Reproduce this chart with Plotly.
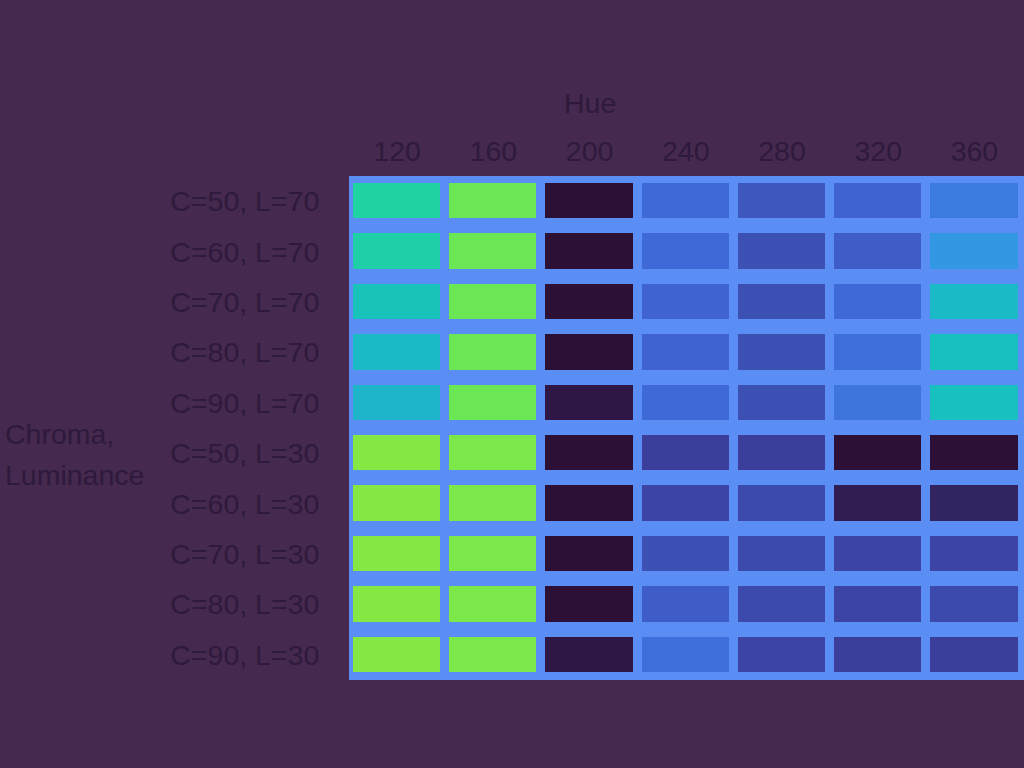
import plotly.graph_objects as go

hues = [120, 160, 200, 240, 280, 320, 360]
rows = ["C=50, L=70", "C=60, L=70", "C=70, L=70", "C=80, L=70", "C=90, L=70",
        "C=50, L=30", "C=60, L=30", "C=70, L=30", "C=80, L=30", "C=90, L=30"]

# values (position on the colour scale, 0..1)
r_c50_l70 = [0.34, 0.45, 0.00, 0.14, 0.11, 0.13, 0.17]
r_c60_l70 = [0.33, 0.45, 0.00, 0.14, 0.10, 0.12, 0.22]
r_c70_l70 = [0.30, 0.45, 0.00, 0.13, 0.10, 0.14, 0.28]
r_c80_l70 = [0.28, 0.45, 0.00, 0.13, 0.10, 0.15, 0.29]
r_c90_l70 = [0.27, 0.45, 0.01, 0.14, 0.10, 0.16, 0.29]
r_c50_l30 = [0.48, 0.47, 0.00, 0.07, 0.07, 0.00, 0.00]
r_c60_l30 = [0.48, 0.47, 0.00, 0.08, 0.09, 0.02, 0.03]
r_c70_l30 = [0.48, 0.47, 0.00, 0.10, 0.09, 0.08, 0.08]
r_c80_l30 = [0.48, 0.47, 0.00, 0.12, 0.09, 0.08, 0.09]
r_c90_l30 = [0.48, 0.47, 0.01, 0.15, 0.08, 0.07, 0.07]

z = [r_c50_l70, r_c60_l70, r_c70_l70, r_c80_l70, r_c90_l70,
     r_c50_l30, r_c60_l30, r_c70_l30, r_c80_l30, r_c90_l30]

turbo = ["#30123b", "#4145ab", "#4675ed", "#39a2fc", "#1bcfd4", "#24eca6", "#61fc6c",
         "#a4fc3b", "#d1e834", "#f3c63a", "#fe9b2d", "#f36315", "#d93806", "#b11901", "#7a0402"]


def dim(h, f=0.92):
    r, g, b = int(h[1:3], 16), int(h[3:5], 16), int(h[5:7], 16)
    return "rgb(%d,%d,%d)" % (r * f, g * f, b * f)


cscale = [[i / (len(turbo) - 1), dim(c)] for i, c in enumerate(turbo)]

BG = "#45294e"
GAP = "#5a8ef5"
TXT = "#2e1a3c"
FONT = "Liberation Sans, Arial, sans-serif"
FS = 28.5

fig = go.Figure()
fig.add_trace(go.Heatmap(x=hues, y=rows, z=z, colorscale=cscale, zmin=0, zmax=1,
                         xgap=9, ygap=15, showscale=False))

fig.update_layout(
    width=1024, height=768,
    margin=dict(l=348.5, r=0, t=175.5, b=87.5, pad=0),
    paper_bgcolor=BG, plot_bgcolor=GAP,
    font=dict(family=FONT, size=FS, color=TXT),
    showlegend=False,
    xaxis=dict(side="top", tickvals=hues, ticktext=[str(h) for h in hues],
               range=[100, 380.6], showgrid=False, zeroline=False, showline=False,
               ticks="outside", ticklen=3, tickcolor="rgba(0,0,0,0)",
               tickfont=dict(size=FS, color=TXT), fixedrange=True),
    yaxis=dict(type="category", range=[9.5, -0.5], showgrid=False, zeroline=False,
               showline=False, ticks="outside", ticklen=23, tickcolor="rgba(0,0,0,0)",
               tickfont=dict(size=FS, color=TXT), fixedrange=True),
    annotations=[
        dict(text="Hue", xref="paper", yref="paper", x=(590 - 348.5) / 675.5,
             y=1 + (175.5 - 102) / 505, xanchor="center", yanchor="middle",
             showarrow=False, font=dict(size=FS, color=TXT)),
        dict(text="Chroma,", xref="paper", yref="paper", x=(2 - 348.5) / 675.5,
             y=1 - (434 - 175.5) / 505, xanchor="left", yanchor="middle",
             showarrow=False, font=dict(size=FS, color=TXT)),
        dict(text="Luminance", xref="paper", yref="paper", x=(2 - 348.5) / 675.5,
             y=1 - (475 - 175.5) / 505, xanchor="left", yanchor="middle",
             showarrow=False, font=dict(size=FS, color=TXT)),
    ],
)

fig.write_html("out.html", config={"displayModeBar": False},
               post_script="document.body.style.margin='0';"
                           "document.body.style.background='%s';" % BG)
